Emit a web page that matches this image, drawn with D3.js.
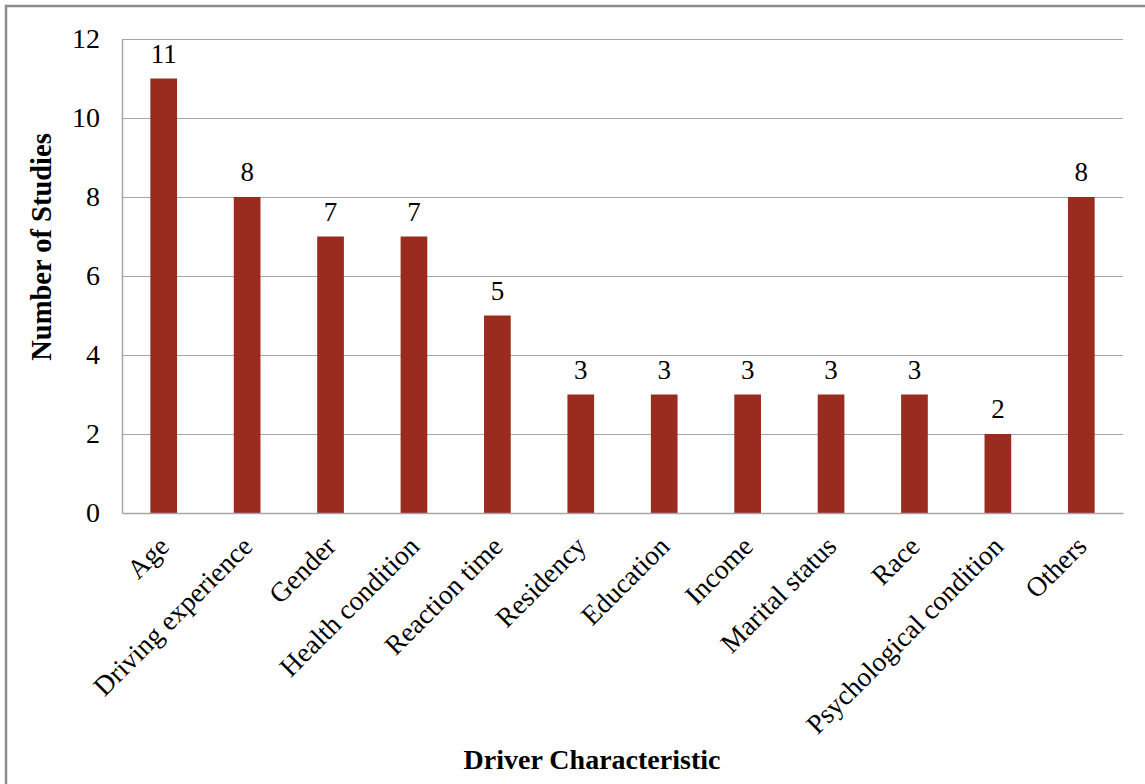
<!DOCTYPE html>
<html><head><meta charset="utf-8">
<script src="https://cdn.jsdelivr.net/npm/d3@7"></script>
<style>body{margin:0;background:#fff}svg{display:block}text{font-family:"Liberation Serif","Times New Roman",serif}</style>
</head><body><svg id="c" width="1145" height="784"></svg>
<script>
const categories = ["Age","Driving experience","Gender","Health condition","Reaction time","Residency","Education","Income","Marital status","Race","Psychological condition","Others"];
const studies = [11,8,7,7,5,3,3,3,3,3,2,8];
const yTicks = [0,2,4,6,8,10,12];

const svg = d3.select("#c");
const m = {left:122, top:39, right:1123, bottom:513};
const x = d3.scaleBand().domain(categories).range([m.left, m.right]).paddingInner(0.68).paddingOuter(0.34);
const y = d3.scaleLinear().domain([0,12]).range([m.bottom, m.top]);

// outer border
svg.append("path").attr("d","M6,784 V6 H1145").attr("fill","none").attr("stroke","#8c8c8c").attr("stroke-width",2.5);

// gridlines
svg.append("g").selectAll("line").data(yTicks.filter(d=>d>0)).join("line")
  .attr("x1",m.left).attr("x2",m.right).attr("y1",d=>y(d)+0.5).attr("y2",d=>y(d)+0.5)
  .attr("stroke","#a6a6a6").attr("stroke-width",1.2);

// bars
svg.append("g").selectAll("rect").data(categories).join("rect")
  .attr("x",d=>x(d)).attr("width",x.bandwidth())
  .attr("y",(d,i)=>y(studies[i])).attr("height",(d,i)=>y(0)-y(studies[i]))
  .attr("fill","#992b1f");

// axes
const ya = svg.append("g").attr("transform",`translate(${m.left},0)`)
  .call(d3.axisLeft(y).tickValues(yTicks).tickSize(0).tickPadding(22));
ya.select(".domain").attr("stroke","#a6a6a6").attr("stroke-width",1.5);
ya.selectAll("text").attr("font-size",28).attr("fill","#000").attr("dy","0.32em");

const xa = svg.append("g").attr("transform",`translate(0,${m.bottom})`)
  .call(d3.axisBottom(x).tickSize(0).tickPadding(0));
xa.select(".domain").attr("stroke","#a6a6a6").attr("stroke-width",1.5);
xa.selectAll("text").attr("font-size",27.5).attr("fill","#000")
  .attr("text-anchor","end").attr("dy",null).attr("y",null)
  .attr("transform","translate(7,35) rotate(-45)");

// value labels
svg.append("g").selectAll("text").data(categories).join("text")
  .attr("x",d=>x(d)+x.bandwidth()/2).attr("y",(d,i)=>y(studies[i])-16)
  .attr("text-anchor","middle").attr("font-size",27).text((d,i)=>studies[i]);

// titles
svg.append("text").attr("x",592).attr("y",769).attr("text-anchor","middle")
  .attr("font-size",28).attr("font-weight","bold").text("Driver Characteristic");
svg.append("text").attr("transform","translate(51,247) rotate(-90)").attr("text-anchor","middle")
  .attr("font-size",28.5).attr("font-weight","bold").text("Number of Studies");
</script></body></html>
